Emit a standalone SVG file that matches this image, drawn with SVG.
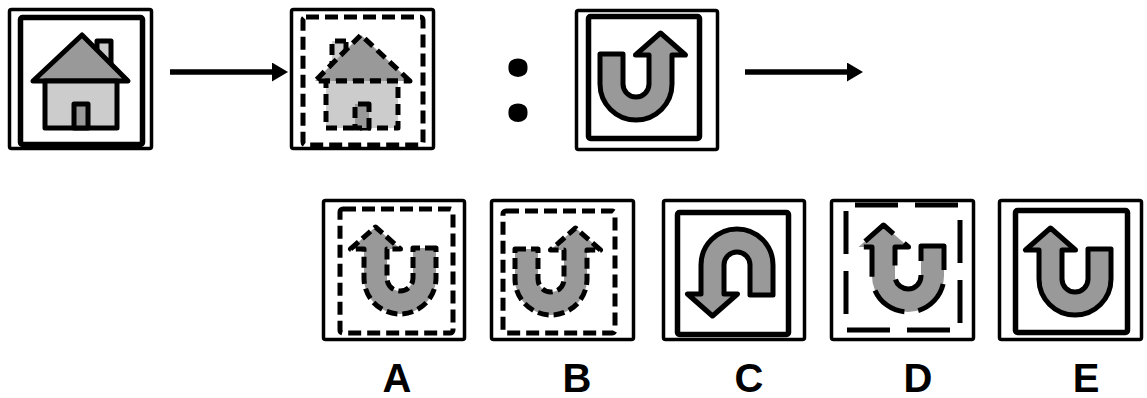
<svg xmlns="http://www.w3.org/2000/svg" xmlns:xlink="http://www.w3.org/1999/xlink" width="1147" height="398" viewBox="0 0 1147 398">
<style>
.outer{fill:none;stroke:#000;stroke-width:3.5}
.inner{fill:none;stroke:#000;stroke-width:5.5}
.dash{fill:none;stroke:#000;stroke-width:5;stroke-dasharray:13 6}
.shape{stroke:#000;stroke-width:5;stroke-linejoin:round}
.dk{fill:#999}
.lt{fill:#ccc}
.sd{stroke-dasharray:11 5}
.conn{stroke:#000;stroke-width:5.5;fill:none}
.lbl{font-family:"Liberation Sans",Arial,sans-serif;font-weight:bold;font-size:40px;text-anchor:middle;fill:#000}
</style>
<defs>
<marker id="ah" viewBox="0 0 16 19" refX="4" refY="9.5" markerWidth="16" markerHeight="19" markerUnits="userSpaceOnUse" orient="auto">
<polygon points="0,0 16,9.5 0,19" fill="#000"/>
</marker>
<path id="uturn" d="M -36,-30 L -13,-30 L -13,0 A 13 13 0 0 0 13,0 L 13,-29 L -0.5,-29 L 24.5,-51 L 49.5,-29 L 36,-29 L 36,0 A 36 36 0 0 1 -36,0 Z"/>
<g id="house">
<rect x="97" y="41" width="14" height="26" class="lt"/>
<polygon points="33,81 82,35 128,81" class="dk"/>
<rect x="45" y="81" width="72" height="47" class="lt"/>
<rect x="74" y="104" width="14" height="24" class="dk"/>
</g>
</defs>

<g id="connectors">
<line x1="170" y1="72" x2="276" y2="72" class="conn" marker-end="url(#ah)"/>
<line x1="745" y1="72" x2="851" y2="72" class="conn" marker-end="url(#ah)"/>
</g>

<g id="panel1">
<rect x="9.5" y="9.5" width="142" height="139" rx="2" class="outer"/>
<rect x="20.5" y="17.5" width="122" height="127" rx="2" class="inner"/>
<use xlink:href="#house" class="shape"/>
</g>

<g id="panel2">
<rect x="291.5" y="9.5" width="142" height="139" rx="2" class="outer"/>
<rect x="303" y="17" width="120" height="128" rx="3" class="dash"/>
<use xlink:href="#house" class="shape" transform="translate(443,0) scale(-1,1)" style="stroke-dasharray:11 6"/>
</g>

<g id="colon">
<text x="518" y="121" style="font-family:'Open Sans',sans-serif;font-weight:bold;font-size:112px;text-anchor:middle">:</text>
</g>

<g id="panel3">
<rect x="576.5" y="10.5" width="141" height="139" rx="2" class="outer"/>
<rect x="588.5" y="16.5" width="111" height="122" rx="2" class="inner"/>
<use xlink:href="#uturn" class="shape dk" transform="translate(636,84)"/>
</g>

<g id="optA">
<rect x="323.5" y="200.5" width="141" height="139" rx="2" class="outer"/>
<rect x="340" y="209" width="113" height="124" rx="3" class="dash"/>
<use xlink:href="#uturn" class="shape dk sd" transform="translate(400,278) scale(-1,1)"/>
<text x="397" y="392" class="lbl">A</text>
</g>

<g id="optB">
<rect x="491.5" y="200.5" width="142" height="139" rx="2" class="outer"/>
<rect x="503" y="211" width="112" height="122" rx="3" class="dash"/>
<use xlink:href="#uturn" class="shape dk sd" transform="translate(551,279)"/>
<text x="577" y="392" class="lbl">B</text>
</g>

<g id="optC">
<rect x="663.5" y="200.5" width="141" height="139" rx="2" class="outer"/>
<rect x="677.5" y="212.5" width="111" height="122" rx="2" class="inner"/>
<use xlink:href="#uturn" class="shape dk" transform="translate(737,265) rotate(180)"/>
<text x="749" y="392" class="lbl">C</text>
</g>

<g id="optD">
<rect x="831.5" y="200.5" width="142" height="139" rx="2" class="outer"/>
<rect x="846" y="205" width="114" height="125" style="fill:none;stroke:#000;stroke-width:5;stroke-dasharray:43 17;stroke-dashoffset:51"/>
<use xlink:href="#uturn" class="shape dk" transform="translate(908,276) scale(-1,1)" style="stroke-dasharray:38 14"/>
<text x="918" y="392" class="lbl">D</text>
</g>

<g id="optE">
<rect x="999.5" y="200.5" width="142" height="139" rx="2" class="outer"/>
<rect x="1015.5" y="210.5" width="112" height="122" rx="2" class="inner"/>
<use xlink:href="#uturn" class="shape dk" transform="translate(1075,279) scale(-1,1)"/>
<text x="1086" y="392" class="lbl">E</text>
</g>
</svg>
